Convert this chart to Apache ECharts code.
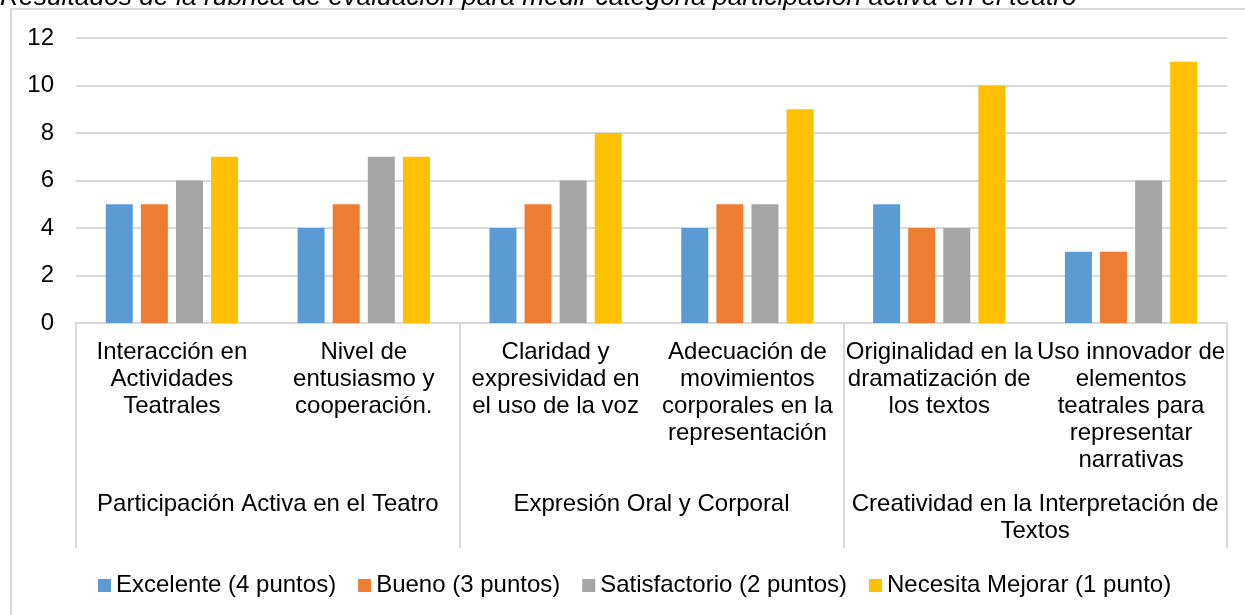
<!DOCTYPE html>
<html>

<head>
    <meta charset="utf-8">
    <script src="https://cdn.jsdelivr.net/npm/echarts@6/dist/echarts.min.js"></script>
    <style>
        body { margin: 0; background: #fff; }
    </style>
</head>

<body>
    <div id="echartsMain" style="width: 1245px; height: 615px;"></div>
</body>

</html>

<script type="text/javascript">
    let criterios = [
        'Interacción en\nActividades\nTeatrales',
        'Nivel de\nentusiasmo y\ncooperación.',
        'Claridad y\nexpresividad en\nel uso de la voz',
        'Adecuación de\nmovimientos\ncorporales en la\nrepresentación',
        'Originalidad en la\ndramatización de\nlos textos',
        'Uso innovador de\nelementos\nteatrales para\nrepresentar\nnarrativas'
    ]
    let categorias = [
        'Participación Activa en el Teatro',
        'Expresión Oral y Corporal',
        'Creatividad en la Interpretación de\nTextos'
    ]
    let excelente = [5, 4, 4, 4, 5, 3]
    let bueno = [5, 5, 5, 5, 4, 3]
    let satisfactorio = [6, 7, 6, 5, 4, 6]
    let necesitaMejorar = [7, 7, 8, 9, 10, 11]

    let titulo = 'Resultados de la rúbrica de evaluación para medir categoría participación activa en el teatro'
    let fuente = '"Liberation Sans", Arial, sans-serif'

    let myChart = echarts.init(document.getElementById('echartsMain'))

    function serie(name, data, color) {
        return {
            name: name,
            type: 'bar',
            data: data,
            barWidth: 27,
            barGap: '30%',
            itemStyle: { color: color }
        }
    }

    let option = {
        animation: false,
        textStyle: { fontFamily: fuente },
        graphic: [
            {
                type: 'rect',
                shape: { x: 11, y: 9, width: 1260, height: 700 },
                style: { fill: 'none', stroke: '#d9d9d9', lineWidth: 2 }
            },
            {
                type: 'text',
                x: 0,
                y: 11,
                style: {
                    text: titulo,
                    fontFamily: fuente,
                    fontSize: 26.4,
                    fontStyle: 'italic',
                    fill: '#000',
                    verticalAlign: 'bottom'
                }
            }
        ],
        grid: {
            left: 76,
            right: 18,
            top: 38,
            bottom: 292
        },
        legend: {
            left: 93,
            top: 567,
            itemWidth: 13,
            itemHeight: 13,
            itemGap: 22,
            icon: 'rect',
            textStyle: { fontSize: 24, color: '#000', lineHeight: 27, fontFamily: fuente },
            data: ['Excelente (4 puntos)', 'Bueno (3 puntos)', 'Satisfactorio (2 puntos)', 'Necesita Mejorar (1 punto)']
        },
        xAxis: [
            {
                type: 'category',
                data: criterios,
                axisLine: { lineStyle: { color: '#d9d9d9', width: 2 } },
                axisTick: { show: false },
                axisLabel: {
                    interval: 0,
                    margin: 16,
                    fontSize: 24,
                    lineHeight: 27,
                    color: '#000',
                    align: 'center'
                }
            },
            {
                type: 'category',
                position: 'bottom',
                data: categorias,
                axisLine: { show: false },
                axisTick: {
                    show: true,
                    length: 225,
                    interval: 0,
                    lineStyle: { color: '#d9d9d9', width: 2 }
                },
                axisLabel: {
                    interval: 0,
                    margin: 168,
                    fontSize: 24,
                    lineHeight: 27,
                    color: '#000'
                }
            }
        ],
        yAxis: {
            type: 'value',
            min: 0,
            max: 12,
            interval: 2,
            axisLine: { show: false },
            axisTick: { show: false },
            axisLabel: { margin: 22, fontSize: 24, color: '#000' },
            splitLine: { lineStyle: { color: '#d9d9d9', width: 2 } }
        },
        series: [
            serie('Excelente (4 puntos)', excelente, '#5b9bd5'),
            serie('Bueno (3 puntos)', bueno, '#ed7d31'),
            serie('Satisfactorio (2 puntos)', satisfactorio, '#a5a5a5'),
            serie('Necesita Mejorar (1 punto)', necesitaMejorar, '#ffc000')
        ]
    }
    myChart.setOption(option)
</script>
